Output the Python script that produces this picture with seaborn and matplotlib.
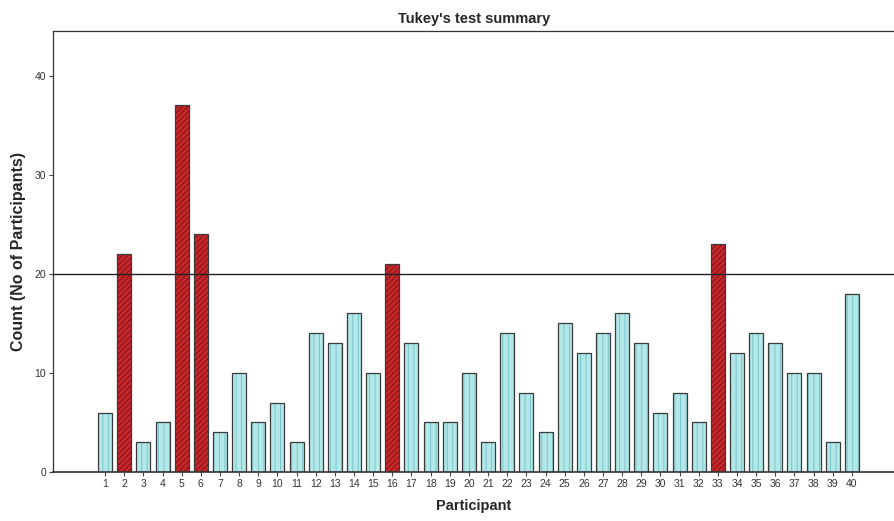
import matplotlib
matplotlib.use("Agg")
import matplotlib.pyplot as plt
import matplotlib.colors as mcolors
import seaborn as sns
import pandas as pd

participants = [str(i) for i in range(1, 41)]
counts = [6, 22, 3, 5, 37, 24, 4, 10, 5, 7,
          3, 14, 13, 16, 10, 21, 13, 5, 5, 10,
          3, 14, 8, 4, 15, 12, 14, 16, 13, 6,
          8, 5, 23, 12, 14, 13, 10, 10, 3, 18]
threshold = 20

df = pd.DataFrame({"Participant": participants, "Count": counts})
df["Flag"] = ["above" if c > threshold else "below" for c in df["Count"]]

sns.set_theme(style="white")
plt.rcParams["font.family"] = ["Liberation Sans", "DejaVu Sans"]
plt.rcParams["hatch.linewidth"] = 0.7

fig = plt.figure(figsize=(8.95, 5.21), dpi=100)
ax = fig.add_axes([0.0592, 0.094, 0.9408, 0.8465])

palette = {"below": "#b3e8e8", "above": "#c8262a"}
sns.barplot(data=df, x="Participant", y="Count", hue="Flag", palette=palette,
            dodge=False, legend=False, width=0.73, saturation=1,
            edgecolor="#3a3a3a", linewidth=0.9, ax=ax)

for p in ax.patches:
    if p.get_height() > threshold:
        p.set_hatch("//////")
        p._hatch_color = mcolors.to_rgba("#7a1416")
    else:
        p.set_hatch("|||")
        p._hatch_color = mcolors.to_rgba("#7cc3cc")

ax.axhline(threshold, color="#222222", linewidth=1.0, zorder=3)

ax.set_xlim(-2.72, 41.25)
ax.set_ylim(0, 44.5)
ax.set_yticks([0, 10, 20, 30, 40])

for side in ["top", "left", "bottom"]:
    ax.spines[side].set_visible(True)
    ax.spines[side].set_color("#333333")
    ax.spines[side].set_linewidth(0.9)
ax.spines["right"].set_visible(False)
ax.spines["bottom"].set_linewidth(1.2)

ax.tick_params(axis="both", which="both", direction="out", length=3, width=0.8,
               color="#444444", labelsize=7.5, labelcolor="#333333",
               bottom=True, left=True, pad=2)

ax.set_title("Tukey's test summary", fontsize=10.5, fontweight="bold", pad=6)
ax.set_xlabel("Participant", fontsize=10.5, fontweight="bold", labelpad=7)
ax.set_ylabel("Count (No of Participants)", fontsize=11.5, fontweight="bold", labelpad=6)

fig.savefig("out.png", dpi=100)
